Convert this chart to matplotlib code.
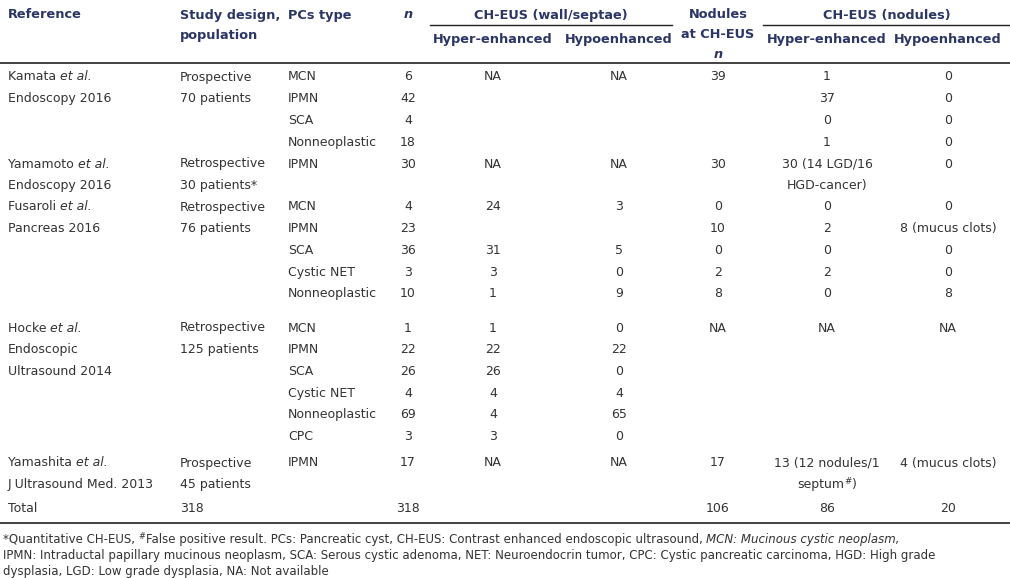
import matplotlib.pyplot as plt

# table content
references = [
    [[("Kamata ", "normal"), ("et al.", "italic")], [("Endoscopy 2016", "normal")]],
    [[("Yamamoto ", "normal"), ("et al.", "italic")], [("Endoscopy 2016", "normal")]],
    [[("Fusaroli ", "normal"), ("et al.", "italic")], [("Pancreas 2016", "normal")]],
    [[("Hocke ", "normal"), ("et al.", "italic")], [("Endoscopic", "normal")], [("Ultrasound 2014", "normal")]],
    [[("Yamashita ", "normal"), ("et al.", "italic")], [("J Ultrasound Med. 2013", "normal")]],
]
designs = [
    ["Prospective", "70 patients"],
    ["Retrospective", "30 patients*"],
    ["Retrospective", "76 patients"],
    ["Retrospective", "125 patients"],
    ["Prospective", "45 patients"],
]
pc_types = [
    ["MCN", "IPMN", "SCA", "Nonneoplastic"],
    ["IPMN"],
    ["MCN", "IPMN", "SCA", "Cystic NET", "Nonneoplastic"],
    ["MCN", "IPMN", "SCA", "Cystic NET", "Nonneoplastic", "CPC"],
    ["IPMN"],
]
n_cases = [
    ["6", "42", "4", "18"],
    ["30"],
    ["4", "23", "36", "3", "10"],
    ["1", "22", "26", "4", "69", "3"],
    ["17"],
]
wall_hyper = [
    ["NA", "", "", ""],
    ["NA"],
    ["24", "", "31", "3", "1"],
    ["1", "22", "26", "4", "4", "3"],
    ["NA"],
]
wall_hypo = [
    ["NA", "", "", ""],
    ["NA"],
    ["3", "", "5", "0", "9"],
    ["0", "22", "0", "4", "65", "0"],
    ["NA"],
]
nodules_n = [
    ["39", "", "", ""],
    ["30"],
    ["0", "10", "0", "2", "8"],
    ["NA", "", "", "", "", ""],
    ["17"],
]
nod_hyper = [
    ["1", "37", "0", "1"],
    ["30 (14 LGD/16\nHGD-cancer)"],
    ["0", "2", "0", "2", "0"],
    ["NA", "", "", "", "", ""],
    ["13 (12 nodules/1\nseptum#)"],
]
nod_hypo = [
    ["0", "0", "0", "0"],
    ["0"],
    ["0", "8 (mucus clots)", "0", "0", "8"],
    ["NA", "", "", "", "", ""],
    ["4 (mucus clots)"],
]
total_row = ["Total", "318", "318", "106", "86", "20"]

footnote = [
    [("*Quantitative CH-EUS, ", "normal"), ("#", "sup"),
     ("False positive result. PCs: Pancreatic cyst, CH-EUS: Contrast enhanced endoscopic ultrasound, ", "normal"),
     ("MCN: Mucinous cystic neoplasm,", "italic")],
    [("IPMN: Intraductal papillary mucinous neoplasm, SCA: Serous cystic adenoma, NET: Neuroendocrin tumor, CPC: Cystic pancreatic carcinoma, HGD: High grade", "normal")],
    [("dysplasia, LGD: Low grade dysplasia, NA: Not available", "normal")],
]

# layout (pixels)
W, H = 1010, 578
x_ref, x_design, x_type = 8, 180, 288
x_n, x_whyper, x_whypo, x_nodn, x_nhyper, x_nhypo = 408, 493, 619, 718, 827, 948
block_top = [76, 163, 206, 327, 462]
row_h = 21.7
y_total = 507
base = 4.5

head_col = "#2b3566"
body_col = "#333333"
hfs = 9.3
fs = 9.0
ffs = 8.5

fig = plt.figure(figsize=(W / 100, H / 100), dpi=100)
ax = fig.add_axes([0, 0, 1, 1])
ax.set_xlim(0, W)
ax.set_ylim(H, 0)
ax.axis("off")
renderer = fig.canvas.get_renderer()


def hd(x, y, s, ha="left", **kw):
    ax.text(x, y + base, s, ha=ha, va="baseline", fontsize=hfs, fontweight="bold", color=head_col, **kw)


def rich(x, y, parts, size=fs, ha="left"):
    # pieces on one baseline; "sup" pieces are smaller and raised
    texts = []
    for s, style in parts:
        if style == "sup":
            t = ax.text(0, y + base - size * 0.45, s, va="baseline", fontsize=size * 0.7, color=body_col)
        else:
            t = ax.text(0, y + base, s, va="baseline", fontsize=size, color=body_col, fontstyle=style)
        texts.append(t)
    widths = [t.get_window_extent(renderer).width for t in texts]
    if ha == "center":
        x = x - sum(widths) / 2
    for t, w in zip(texts, widths):
        t.set_x(x)
        x += w


def cell(x, y, s, ha="left"):
    if "#" in s:
        a, b = s.split("#")
        rich(x, y, [(a, "normal"), ("#", "sup"), (b, "normal")], ha=ha)
    else:
        ax.text(x, y + base, s, ha=ha, va="baseline", fontsize=fs, color=body_col)


# header
hd(x_ref, 14, "Reference")
hd(x_design, 14, "Study design,")
hd(x_design, 35, "population")
hd(x_type, 14, "PCs type")
hd(x_n, 14, "n", ha="center", fontstyle="italic")
hd((430 + 672) / 2, 14, "CH-EUS (wall/septae)", ha="center")
ax.plot([430, 672], [25, 25], color="#222222", lw=1.0)
hd(x_whyper, 39, "Hyper-enhanced", ha="center")
hd(x_whypo, 39, "Hypoenhanced", ha="center")
hd(x_nodn, 14, "Nodules", ha="center")
hd(x_nodn, 34, "at CH-EUS", ha="center")
hd(x_nodn, 53, "n", ha="center", fontstyle="italic")
hd((763 + 1010) / 2, 14, "CH-EUS (nodules)", ha="center")
ax.plot([763, 1010], [25, 25], color="#222222", lw=1.0)
hd(x_nhyper, 39, "Hyper-enhanced", ha="center")
hd(x_nhypo, 39, "Hypoenhanced", ha="center")
ax.plot([0, W], [63, 63], color="#222222", lw=1.2)

# body
cols = [(x_n, n_cases), (x_whyper, wall_hyper), (x_whypo, wall_hypo),
        (x_nodn, nodules_n), (x_nhyper, nod_hyper), (x_nhypo, nod_hypo)]
for b, y0 in enumerate(block_top):
    for i, parts in enumerate(references[b]):
        rich(x_ref, y0 + i * row_h, parts)
    for i, s in enumerate(designs[b]):
        cell(x_design, y0 + i * row_h, s)
    for r in range(len(pc_types[b])):
        y = y0 + r * row_h
        cell(x_type, y, pc_types[b][r])
        for x, vals in cols:
            for i, s in enumerate(vals[b][r].split("\n")):
                cell(x, y + i * row_h, s, ha="center")

cell(x_ref, y_total, total_row[0])
cell(x_design, y_total, total_row[1])
for x, s in zip([x_n, x_nodn, x_nhyper, x_nhypo], total_row[2:]):
    cell(x, y_total, s, ha="center")
ax.plot([0, W], [523, 523], color="#222222", lw=1.2)

# footnote
for i, parts in enumerate(footnote):
    rich(3, 538 + i * 16, parts, size=ffs)

fig.savefig("out.png", dpi=100)
